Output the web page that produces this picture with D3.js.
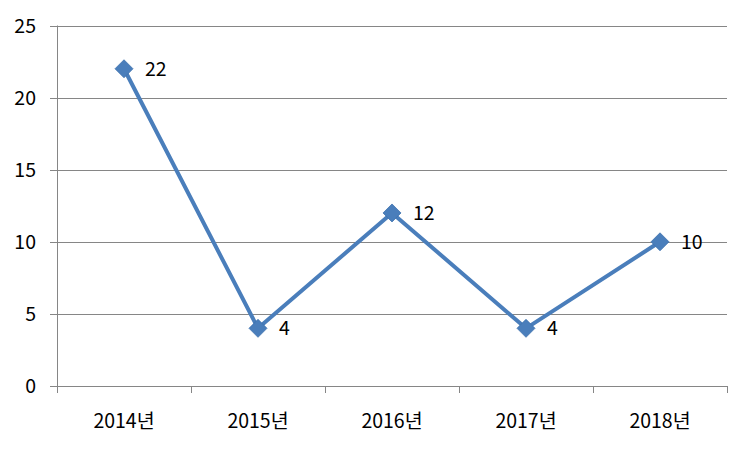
<!DOCTYPE html>
<html>
<head>
<meta charset="utf-8">
<script src="https://cdn.jsdelivr.net/npm/d3@7"></script>
<style>
  html, body { margin: 0; padding: 0; background: #ffffff; }
  svg { display: block; font-family: "Noto Sans CJK KR", "Noto Sans", sans-serif; }
</style>
</head>
<body>
<svg id="chart" width="750" height="450"></svg>
<script>
const categories = ["2014년", "2015년", "2016년", "2017년", "2018년"];
const values = [22, 4, 12, 4, 10];
const yTicks = [0, 5, 10, 15, 20, 25];

(function () {
const svg = d3.select("#chart");
const plotLeft = 57, plotRight = 727, plotTop = 25.5, plotBottom = 386;

const x = d3.scaleBand().domain(categories).range([plotLeft, plotRight]);
const y = d3.scaleLinear().domain([0, 25]).range([plotBottom, plotTop]);

// gridlines
svg.append("g").selectAll("line").data(yTicks).join("line")
  .attr("x1", plotLeft - 7).attr("x2", plotRight)
  .attr("y1", d => Math.round(y(d)) + 0.5).attr("y2", d => Math.round(y(d)) + 0.5)
  .attr("stroke", "#868686").attr("stroke-width", 1);

// y axis line
svg.append("line")
  .attr("x1", plotLeft + 0.5).attr("x2", plotLeft + 0.5)
  .attr("y1", y(25)).attr("y2", plotBottom)
  .attr("stroke", "#868686");

// x tick marks at band boundaries
const bounds = categories.map(c => x(c)).concat([plotRight]);
svg.append("g").selectAll("line").data(bounds).join("line")
  .attr("x1", d => Math.round(d) + 0.5).attr("x2", d => Math.round(d) + 0.5)
  .attr("y1", plotBottom).attr("y2", plotBottom + 7)
  .attr("stroke", "#868686");

// y labels
svg.append("g").selectAll("text").data(yTicks).join("text")
  .attr("x", 36).attr("y", d => y(d))
  .attr("dy", "0.36em")
  .attr("text-anchor", "end")
  .attr("font-size", 19.5).attr("fill", "#000")
  .text(d => d);

// x labels
svg.append("g").selectAll("text").data(categories).join("text")
  .attr("x", d => x(d) + x.bandwidth() / 2).attr("y", 428)
  .attr("text-anchor", "middle")
  .attr("font-size", 19.5).attr("fill", "#000")
  .text(d => d);

const cx = (d, i) => x(categories[i]) + x.bandwidth() / 2;

// line
const line = d3.line().x((d, i) => cx(d, i)).y(d => y(d));
svg.append("path").datum(values)
  .attr("d", line)
  .attr("fill", "none")
  .attr("stroke", "#4A7EBB")
  .attr("stroke-width", 4)
  .attr("stroke-linejoin", "round");

// diamond markers
svg.append("g").selectAll("path").data(values).join("path")
  .attr("transform", (d, i) => `translate(${cx(d, i)},${y(d)})`)
  .attr("d", "M0,-9L9,0L0,9L-9,0Z")
  .attr("fill", "#4A7EBB")
  .attr("stroke", "#3F72AF").attr("stroke-width", 0.8);

// data labels
svg.append("g").selectAll("text").data(values).join("text")
  .attr("x", (d, i) => cx(d, i) + 21).attr("y", d => y(d))
  .attr("dy", "0.36em")
  .attr("font-size", 19.5).attr("fill", "#000")
  .text(d => d);
})();
</script>
</body>
</html>
